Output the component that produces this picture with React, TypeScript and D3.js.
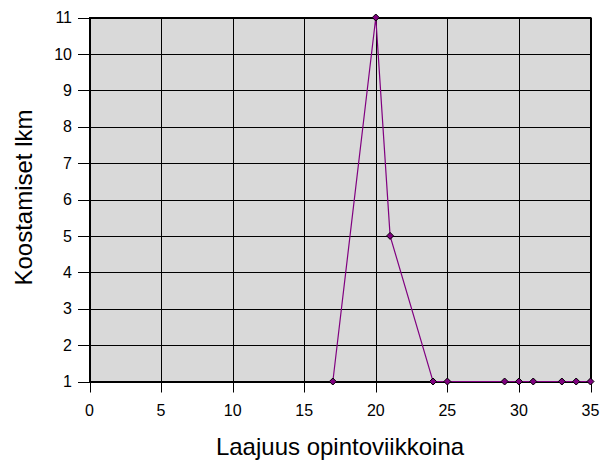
import React from "react";
import * as d3 from "d3";

const xValues = [17, 20, 21, 24, 25, 29, 30, 31, 33, 34, 35];
const yValues = [1, 11, 5, 1, 1, 1, 1, 1, 1, 1, 1];
const xTicks = [0, 5, 10, 15, 20, 25, 30, 35];
const yTicks = [1, 2, 3, 4, 5, 6, 7, 8, 9, 10, 11];
const xTitle = "Laajuus opintoviikkoina";
const yTitle = "Koostamiset lkm";

export default function App() {
  const W = 601, H = 461;
  const left = 89.5, right = 590.5, top = 17.5, bottom = 381.5;
  const x = d3.scaleLinear().domain([0, 35]).range([left, right]);
  const y = d3.scaleLinear().domain([1, 11]).range([bottom, top]);
  const pts = xValues.map((v, i) => [v, yValues[i]] as [number, number]);
  const line = d3.line<[number, number]>().x(d => x(d[0])).y(d => y(d[1]));
  const font = "'Liberation Sans', Arial, sans-serif";
  const diamond = (cx: number, cy: number, r: number) =>
    `M${cx},${cy - r}L${cx + r},${cy}L${cx},${cy + r}L${cx - r},${cy}Z`;
  return (
    <svg width={W} height={H} style={{ position: "absolute", left: 0, top: 0, background: "#fff" }} fontFamily={font}>
      <rect x={left} y={top} width={right - left} height={bottom - top} fill="#d9d9d9" />
      {yTicks.map(t => (
        <g key={"y" + t}>
          <line x1={78} x2={right} y1={Math.round(y(t)) + 0.5} y2={Math.round(y(t)) + 0.5} stroke="#000" strokeWidth={1} />
          <text x={72} y={y(t)} dy="0.36em" textAnchor="end" fontSize={16} fill="#000">{t}</text>
        </g>
      ))}
      {xTicks.map(t => (
        <g key={"x" + t}>
          <line x1={Math.round(x(t)) + 0.5} x2={Math.round(x(t)) + 0.5} y1={top} y2={392.5} stroke="#000" strokeWidth={1} />
          <text x={x(t)} y={416} textAnchor="middle" fontSize={16} fill="#000">{t}</text>
        </g>
      ))}
      <rect x={left} y={top} width={right - left} height={bottom - top} fill="none" stroke="#000" strokeWidth={1} />
      <path d={line(pts) || ""} fill="none" stroke="#800080" strokeWidth={1.2} />
      {pts.map((p, i) => (
        <path key={i} d={diamond(x(p[0]), y(p[1]), 3.5)} fill="#800080" stroke="#000" strokeWidth={1} />
      ))}
      <text x={(left + right) / 2} y={455} textAnchor="middle" fontSize={24} fill="#000">{xTitle}</text>
      <text transform={`translate(32,${(top + bottom) / 2 - 2}) rotate(-90)`} textAnchor="middle" fontSize={24} fill="#000">{yTitle}</text>
    </svg>
  );
}
